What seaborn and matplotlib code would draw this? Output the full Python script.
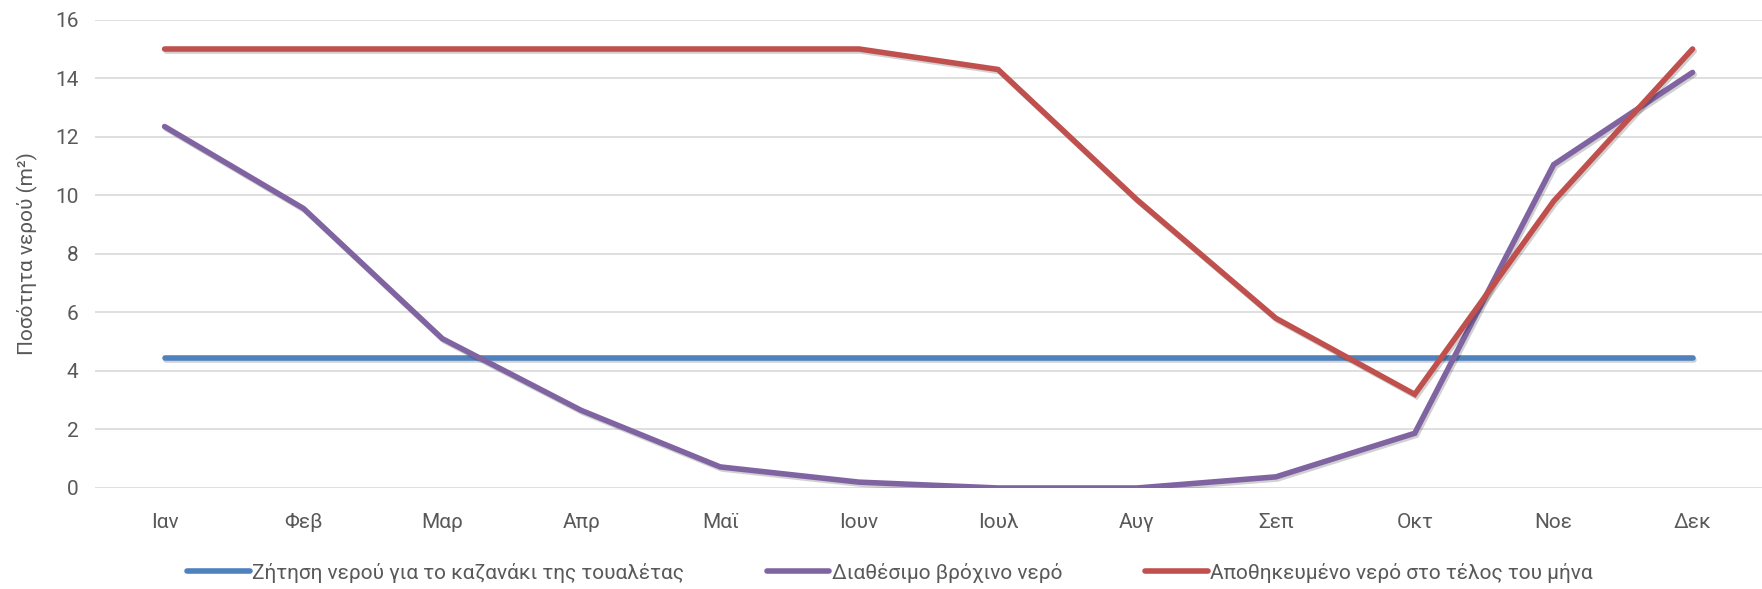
import matplotlib
matplotlib.use("Agg")
import matplotlib.pyplot as plt
import matplotlib.patheffects as pe
import seaborn as sns
import pandas as pd

months = ["Ιαν", "Φεβ", "Μαρ", "Απρ", "Μαϊ", "Ιουν",
          "Ιουλ", "Αυγ", "Σεπ", "Οκτ", "Νοε", "Δεκ"]
demand = [4.45] * 12
rain = [12.35, 9.55, 5.1, 2.65, 0.72, 0.2, 0.0, 0.0, 0.38, 1.87, 11.05, 14.2]
stored = [15.0, 15.0, 15.0, 15.0, 15.0, 15.0, 14.3, 9.85, 5.8, 3.2, 9.8, 15.0]

series_names = ["Ζήτηση νερού για το καζανάκι της τουαλέτας",
                "Διαθέσιμο βρόχινο νερό",
                "Αποθηκευμένο νερό στο τέλος του μήνα"]
colors = ["#4F81BD", "#8064A2", "#C0504D"]

df = pd.concat([
    pd.DataFrame({"month": months, "value": vals, "series": name})
    for name, vals in zip(series_names, [demand, rain, stored])
], ignore_index=True)

sns.set_theme(style="white")
plt.rcParams["font.family"] = ["Roboto", "DejaVu Sans"]
text_color = "#595959"
fs = 15

fig = plt.figure(figsize=(17.62, 5.89), dpi=100)
ax = fig.add_axes([0.054, 0.1715, 0.946, 0.795])

sns.lineplot(data=df, x="month", y="value", hue="series",
             hue_order=series_names, palette=colors, linewidth=4,
             sort=False, ax=ax, legend=False)

# soft drop shadow like the original office chart
shadow = [pe.SimpleLineShadow(offset=(1.2, -1.5), alpha=0.18, shadow_color="black"),
          pe.Normal()]
for line in ax.get_lines():
    line.set_solid_capstyle("round")
    line.set_solid_joinstyle("miter")
    line.set_path_effects(shadow)

ax.set_xlim(-0.5, 11.5)
ax.set_ylim(0, 16)
ax.set_yticks(range(0, 17, 2))
ax.grid(axis="y", color="#D9D9D9", linewidth=1.2)
ax.set_axisbelow(True)
for s in ax.spines.values():
    s.set_visible(False)
ax.tick_params(axis="both", length=0, labelsize=fs, colors=text_color, pad=12)
ax.tick_params(axis="x", pad=18)
ax.set_xlabel("")
ax.set_ylabel("Ποσότητα νερού (m²)", fontsize=fs, color=text_color, labelpad=12)

handles = [plt.Line2D([], [], color=c, linewidth=4, solid_capstyle="round") for c in colors]
fig.legend(handles, series_names, loc="center", bbox_to_anchor=(0.505, 0.028),
           ncol=3, frameon=False, fontsize=fs, labelcolor=text_color,
           handlelength=3, handletextpad=0.1, columnspacing=4.0)

fig.savefig("out.png", dpi=100)
